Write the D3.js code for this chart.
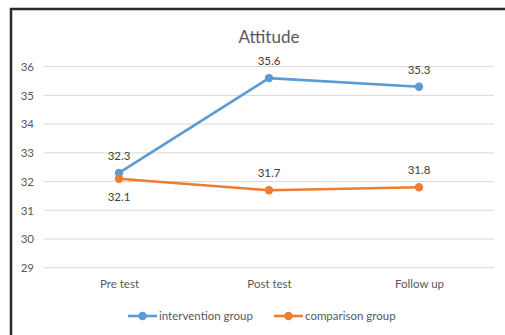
<!DOCTYPE html>
<html><head><meta charset="utf-8">
<script src="https://cdn.jsdelivr.net/npm/d3@7"></script>
<style>
html,body{margin:0;padding:0;background:#fff;}
svg{display:block;font-family:Lato,"Open Sans",sans-serif;}
</style></head>
<body>
<svg id="c" width="505" height="335"></svg>
<script>
const categories = ["Pre test", "Post test", "Follow up"];
const intervention = [32.3, 35.6, 35.3];
const comparison = [32.1, 31.7, 31.8];
const yTicks = [29, 30, 31, 32, 33, 34, 35, 36];
const seriesNames = ["intervention group", "comparison group"];
const colors = ["#5B9BD5", "#ED7D31"];
const labelPos = [["above","above","above"],["below","above","above"]];

const svg = d3.select("#c");
// frame
svg.append("rect").attr("x",11).attr("y",9).attr("width",520).attr("height",340)
  .attr("fill","#fff").attr("stroke","#2b2b2b").attr("stroke-width",2.5);

const x = d3.scalePoint().domain(categories).range([44,494]).padding(0.5);
const y = d3.scaleLinear().domain([29,36]).range([267.8,66.6]);

// gridlines
svg.append("g").selectAll("line").data(yTicks).join("line")
  .attr("x1",44).attr("x2",494).attr("y1",d=>y(d)).attr("y2",d=>y(d))
  .attr("stroke","#d9d9d9").attr("stroke-width",1);

// y axis labels
const ya = svg.append("g").attr("transform","translate(38,0)")
  .call(d3.axisLeft(y).tickValues(yTicks).tickSize(0).tickPadding(4).tickFormat(d3.format("d")));
ya.select(".domain").remove();
ya.selectAll("text").attr("fill","#595959").attr("font-size",11.5).attr("font-family","Lato,sans-serif");

// x axis labels
const xa = svg.append("g").attr("transform","translate(0,278)")
  .call(d3.axisBottom(x).tickSize(0).tickPadding(2));
xa.select(".domain").remove();
xa.selectAll("text").attr("fill","#595959").attr("font-size",11.5).attr("font-family","Lato,sans-serif");

// title
svg.append("text").attr("x",269).attr("y",43).attr("text-anchor","middle")
  .attr("fill","#595959").attr("font-size",17).text("Attitude");

const data = [intervention, comparison];
const line = d3.line().x((d,i)=>x(categories[i])).y(d=>y(d));
data.forEach((vals,s)=>{
  svg.append("path").datum(vals).attr("d",line).attr("fill","none")
    .attr("stroke",colors[s]).attr("stroke-width",2.6).attr("stroke-linejoin","round");
  svg.append("g").selectAll("circle").data(vals).join("circle")
    .attr("cx",(d,i)=>x(categories[i])).attr("cy",d=>y(d)).attr("r",4.2).attr("fill",colors[s]);
});
data.forEach((vals,s)=>{
  svg.append("g").selectAll("text").data(vals).join("text")
    .attr("x",(d,i)=>x(categories[i])).attr("y",(d,i)=>labelPos[s][i]==="above"? y(d)-13 : y(d)+22)
    .attr("text-anchor","middle").attr("fill","#404040").attr("font-size",11.5)
    .text(d=>d.toFixed(1));
});

// legend
const legend = svg.append("g");
const legendX = [128, 274];
seriesNames.forEach((n,s)=>{
  const g = legend.append("g").attr("transform",`translate(${legendX[s]},316)`);
  g.append("line").attr("x1",0).attr("x2",29).attr("stroke",colors[s]).attr("stroke-width",2.6);
  g.append("circle").attr("cx",14.5).attr("r",4.2).attr("fill",colors[s]);
  g.append("text").attr("x",31).attr("y",4).attr("fill","#595959").attr("font-size",11.5).text(n);
});
</script>
</body></html>
